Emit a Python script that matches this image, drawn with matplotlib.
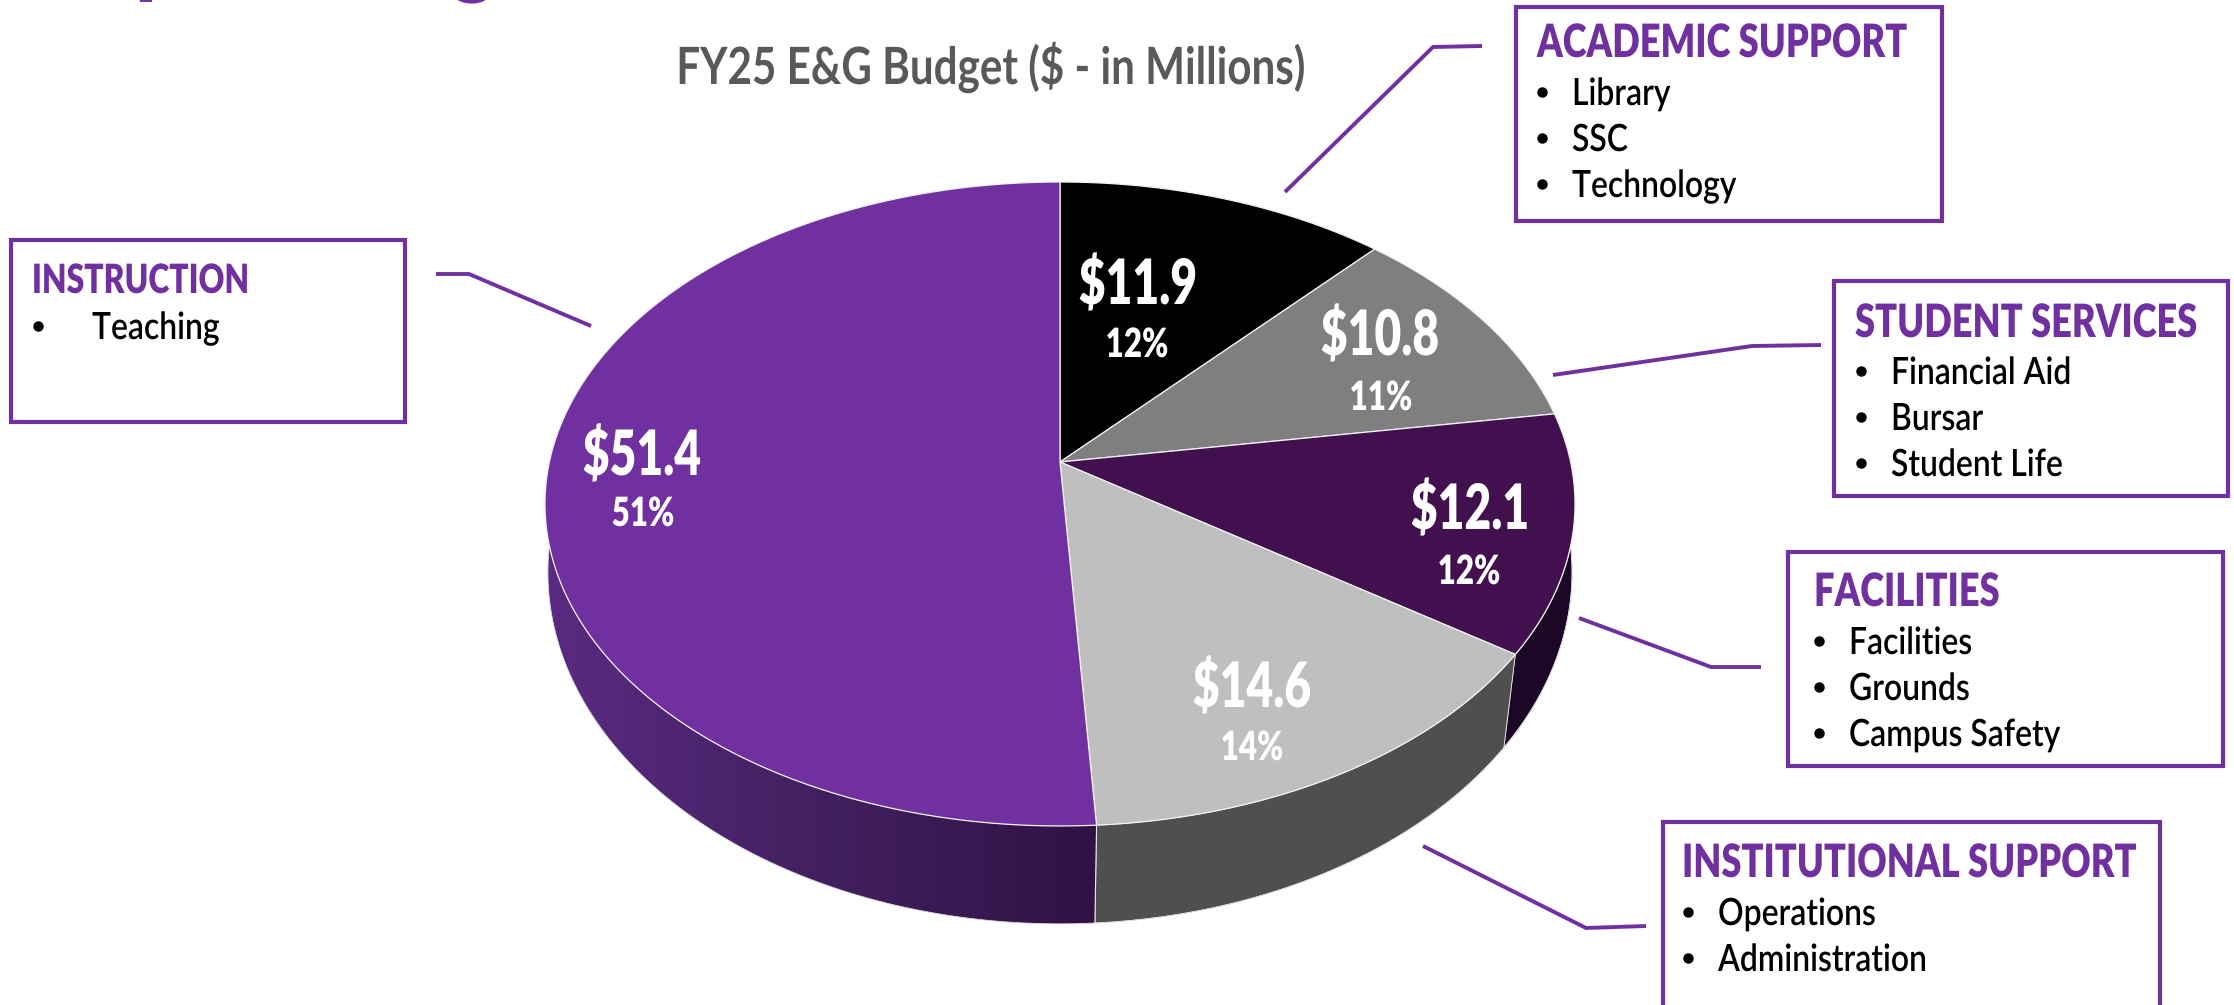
import numpy as np
import matplotlib
matplotlib.use("Agg")
import matplotlib.pyplot as plt
from matplotlib.colors import LinearSegmentedColormap
from matplotlib.patches import Polygon, Rectangle
from matplotlib.patheffects import AbstractPathEffect
from matplotlib.text import Text
from matplotlib.transforms import Affine2D, Bbox

plt.rcParams["font.family"] = ["Lato", "DejaVu Sans"]

# budget slices, clockwise from 12 o'clock
slice_names = ["Academic Support", "Student Services", "Facilities", "Institutional Support", "Instruction"]
slice_values = [11.9, 10.8, 12.1, 14.6, 51.4]
slice_labels = ["$11.9", "$10.8", "$12.1", "$14.6", "$51.4"]
slice_pcts = ["12%", "11%", "12%", "14%", "51%"]
top_colors = ["#000000", "#7f7f7f", "#42104f", "#bfbfbf", "#7030a0"]
wall_colors = ["#000000", "#4d4d4d", "#1c0726", "#4f4f4f", None]
label_xy = [(1138, 304), (1380, 355), (1470, 529), (1252, 707), (642, 475)]
pct_xy = [(1137, 357), (1381, 410), (1469, 584), (1252, 760), (643, 526)]

box_titles = ["ACADEMIC SUPPORT", "STUDENT SERVICES", "FACILITIES", "INSTITUTIONAL SUPPORT", "INSTRUCTION"]
box_items = [
    ["Library", "SSC", "Technology"],
    ["Financial Aid", "Bursar", "Student Life"],
    ["Facilities", "Grounds", "Campus Safety"],
    ["Operations", "Administration"],
    ["Teaching"],
]
box_rects = [(1516, 7, 426, 214), (1834, 281, 394, 215), (1788, 552, 435, 214), (1663, 822, 497, 240), (11, 240, 394, 182)]
title_sizes = [33, 33, 33, 33, 29]
title_dx = [0, 0, 5, -2, 0]
title_dy = [-4, 2, 0, 1, -1]
item_dx = [-1, 0, 4, -2, 0]
item_dy = [-4, 1, 0, 1, -3]
leader_x = [[1482, 1433, 1285], [1821, 1752, 1553], [1579, 1711, 1761], [1423, 1586, 1646], [436, 469, 591]]
leader_y = [[46, 47, 192], [345, 346, 375], [618, 667, 667], [846, 928, 926], [274, 274, 326]]

PURPLE = "#7030a0"
CX, CY = 1060, 462
# rim projection (a, b, c, drop) for the top and bottom face
TOP = (510.6, 316.5, 0.1304, 0)
BOTTOM = (510, 341.5, 0.09, 78.8)


def rim(t_deg, face=TOP):
    a, b, c, drop = face
    t = np.radians(t_deg)
    u, v = np.sin(t), -np.cos(t)
    d = 1 - c * v
    return CX + a * u / d, CY + (b * v + drop) / d


class Squeeze(AbstractPathEffect):
    """Narrow the glyphs sideways, no condensed face is installed."""

    def __init__(self, owner):
        super().__init__()
        self.owner = owner

    def draw_path(self, renderer, gc, tpath, affine, rgbFace=None):
        x0 = self.owner.anchor_x()
        squeeze = Affine2D().translate(-x0, 0).scale(self.owner.sx, 1).translate(x0, 0)
        renderer.draw_path(gc, tpath, affine + squeeze, rgbFace)


class NarrowText(Text):
    def __init__(self, x, y, s, sx, **kw):
        super().__init__(x, y, s, **kw)
        self.sx = sx
        self.set_path_effects([Squeeze(self)])

    def anchor_x(self):
        return self.get_transform().transform(self.get_position())[0]

    def get_window_extent(self, renderer=None, dpi=None):
        bb = super().get_window_extent(renderer, dpi)
        x0 = self.anchor_x()
        return Bbox.from_extents(x0 + (bb.x0 - x0) * self.sx, bb.y0, x0 + (bb.x1 - x0) * self.sx, bb.y1)


def put_text(x, y, s, sx, **kw):
    return ax.add_artist(NarrowText(x, y, s, sx, **kw))


fig = plt.figure(figsize=(22.34, 10.05), dpi=100)
ax = fig.add_axes([0, 0, 1, 1])

edges = np.concatenate([[0], np.cumsum(slice_values)]) / np.sum(slice_values) * 360

# side wall first, top face paints over whatever is hidden
for i in range(5):
    ts = np.linspace(edges[i], edges[i + 1], 200)
    x0, y0 = rim(ts)
    x1, y1 = rim(ts, BOTTOM)
    xs = np.concatenate([x0, x1[::-1]])
    ys = np.concatenate([y0, y1[::-1]])
    if wall_colors[i] is None:
        poly = Polygon(np.column_stack([xs, ys]), closed=True, fc="none", ec="none")
        ax.add_patch(poly)
        grad = np.linspace(0, 1, 256)[None, :]
        cmap = LinearSegmentedColormap.from_list("wall", ["#5b2a82", "#42205f", "#2f1244"])
        im = ax.imshow(grad, extent=[545, 1098, 1005, 0], cmap=cmap, aspect="auto", zorder=1)
        im.set_clip_path(poly)
    else:
        ax.fill(xs, ys, fc=wall_colors[i], ec="#e8e8e8", lw=0.6, zorder=1)
    ax.plot(x1, y1, color="#dddddd", lw=0.6, zorder=2)

ax.set_xlim(0, 2234)
ax.set_ylim(1005, 0)
ax.axis("off")

bx, by = rim(edges[4]), rim(edges[4], BOTTOM)
ax.plot([bx[0], by[0]], [bx[1], by[1]], color="#e8e8e8", lw=0.8, zorder=2)

for i in range(5):
    ts = np.linspace(edges[i], edges[i + 1], 200)
    x0, y0 = rim(ts)
    ax.fill(np.r_[CX, x0], np.r_[CY, y0], fc=top_colors[i], ec="#f2f2f2", lw=0.9, zorder=3)

for i in range(5):
    put_text(*label_xy[i], slice_labels[i], 0.74, color="white", fontsize=45, fontweight="heavy", ha="center", va="baseline", zorder=5)
    put_text(*pct_xy[i], slice_pcts[i], 0.78, color="white", fontsize=29, fontweight="heavy", ha="center", va="baseline", zorder=5)

put_text(991, 84, "FY25 E&G Budget ($ - in Millions)", 0.82, color="#595959", fontsize=37, fontweight="bold", ha="center", va="baseline")

# slide heading cut off by the crop, only the descenders show
put_text(54, -19, "Operating", 0.79, color=PURPLE, fontsize=90, fontweight="bold", ha="left", va="baseline")

for i in range(5):
    bxx, byy, w, h = box_rects[i]
    ax.add_patch(Rectangle((bxx, byy), w, h, fc="white", ec=PURPLE, lw=3, zorder=4))
    ax.plot(leader_x[i], leader_y[i], color=PURPLE, lw=2.8, solid_joinstyle="miter", solid_capstyle="butt", zorder=4)
    put_text(bxx + 21 + title_dx[i], byy + 54 + title_dy[i], box_titles[i], 0.79, color=PURPLE, fontsize=title_sizes[i], fontweight="heavy", ha="left", va="baseline", zorder=5)
    indent = 81 if i == 4 else 57
    for j, item in enumerate(box_items[i]):
        y = byy + 102 + item_dy[i] + j * 46
        ax.plot([bxx + 27 + item_dx[i]], [y - 13], "o", color="black", ms=6.5, zorder=5)
        put_text(bxx + indent + item_dx[i], y, item, 0.85, color="black", fontsize=27, fontweight="semibold", ha="left", va="baseline", zorder=5)

fig.savefig("out.png", dpi=100)
